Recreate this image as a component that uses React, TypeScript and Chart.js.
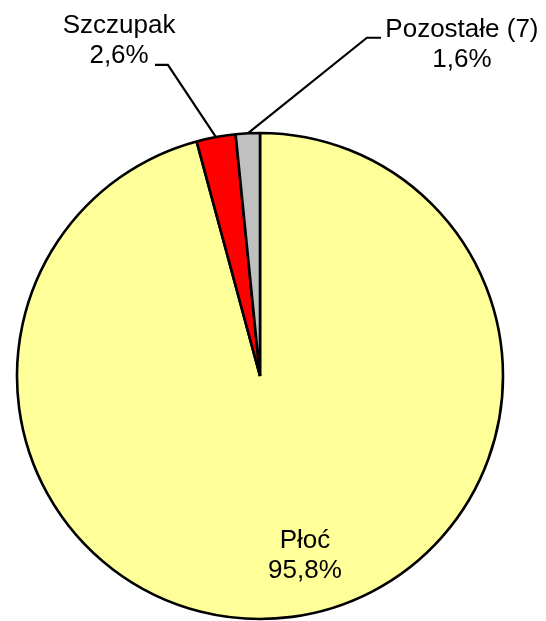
import React, { useEffect, useRef } from "react";
import { Chart, registerables } from "chart.js";

Chart.register(...registerables);

const categories = ["Płoć", "Szczupak", "Pozostałe (7)"];
const shares = [95.8, 2.6, 1.6];
const sliceColors = ["#FFFF99", "#FF0000", "#C0C0C0"];

const fmt = (v: number) => v.toFixed(1).replace(".", ",") + "%";

// label placement relative to pie centre, in units of the radius
type LabelPos = {
  tx: number; // text centre x
  ty: number; // first baseline y
  knee?: [number, number];
  end?: number; // x of horizontal end of leader
};
const labelPos: LabelPos[] = [
  { tx: 0.185, ty: 0.708 },
  { tx: -0.58, ty: -1.411, knee: [-0.379, -1.28], end: -0.432 },
  { tx: 0.831, ty: -1.395, knee: [0.44, -1.392], end: 0.498 },
];

const labelPlugin = {
  id: "sliceLabels",
  afterDatasetsDraw(chart: any) {
    const ctx = chart.ctx as CanvasRenderingContext2D;
    const meta = chart.getDatasetMeta(0);
    ctx.save();
    meta.data.forEach((arc: any, i: number) => {
      const { x, y, startAngle, endAngle, outerRadius } = arc.getProps(
        ["x", "y", "startAngle", "endAngle", "outerRadius"],
        true
      );
      const r = outerRadius;
      const mid = (startAngle + endAngle) / 2;
      const p = labelPos[i];
      if (p.knee) {
        ctx.beginPath();
        ctx.strokeStyle = "#000";
        ctx.lineWidth = 2.2;
        ctx.moveTo(x + Math.cos(mid) * r, y + Math.sin(mid) * r);
        ctx.lineTo(x + p.knee[0] * r, y + p.knee[1] * r);
        ctx.lineTo(x + (p.end as number) * r, y + p.knee[1] * r);
        ctx.stroke();
      }
      ctx.fillStyle = "#000";
      ctx.font = '26px "Liberation Sans", Arial, sans-serif';
      ctx.textAlign = "center";
      ctx.textBaseline = "alphabetic";
      const tx = x + p.tx * r;
      const ty = y + p.ty * r;
      ctx.fillText(categories[i], tx, ty);
      ctx.fillText(fmt(shares[i]), tx, ty + 30);
    });
    ctx.restore();
  },
};

export default function App() {
  const ref = useRef<HTMLCanvasElement>(null);
  useEffect(() => {
    document.body.style.margin = "0";
    const chart = new Chart(ref.current as HTMLCanvasElement, {
      type: "pie",
      data: {
        labels: categories,
        datasets: [
          {
            data: shares,
            backgroundColor: sliceColors,
            borderColor: "#000000",
            borderWidth: 2.6,
          },
        ],
      },
      options: {
        responsive: false,
        animation: false,
        radius: 243,
        rotation: 0,
        layout: { padding: { left: 0, right: 26, top: 131, bottom: 0 } },
        plugins: {
          legend: { display: false },
          tooltip: { enabled: false },
        },
      } as any,
      plugins: [labelPlugin],
    });
    return () => chart.destroy();
  }, []);
  return (
    <div style={{ position: "absolute", left: 0, top: 0, width: 546, height: 621, background: "#fff" }}>
      <canvas ref={ref} width={546} height={621} />
    </div>
  );
}
